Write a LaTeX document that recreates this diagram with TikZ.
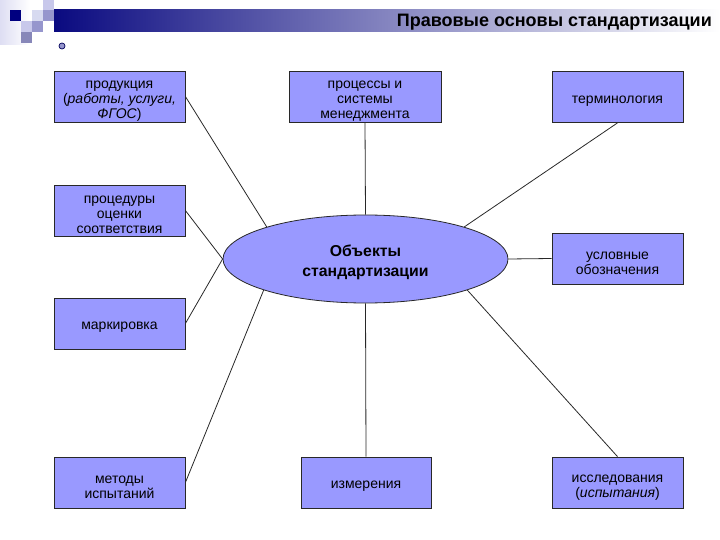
\documentclass[tikz,border=0pt]{standalone}
\usepackage{fontspec}
\setmainfont{Liberation Sans}
\usetikzlibrary{shapes.geometric}
\definecolor{boxfill}{RGB}{153,153,255}
\definecolor{navybar}{RGB}{10,10,128}
\definecolor{sqdark}{RGB}{0,0,128}
\definecolor{sqmid}{RGB}{150,150,205}
\definecolor{sqlight}{RGB}{200,200,235}
\definecolor{sqpale}{RGB}{215,218,240}
\definecolor{edge}{RGB}{40,40,40}
\newcommand\topstrut[1]{\rule{0pt}{#1}}
\tikzset{
  objbox/.style={draw=edge, line width=0.8pt, fill=boxfill, minimum width=131pt, minimum height=51pt,
    inner xsep=1pt, inner ysep=0pt, align=center, font=\fontsize{14}{15}\selectfont},
  objell/.style={ellipse, draw=edge, line width=0.8pt, fill=boxfill, minimum width=285pt, minimum height=88pt,
    inner sep=0pt, align=center, font=\fontsize{15.8}{20}\selectfont\bfseries},
  link/.style={draw=edge, line width=0.8pt}
}
\begin{document}
\begin{tikzpicture}[x=1pt,y=-1pt]
\useasboundingbox (0,0) rectangle (720,540);
% faint left background
\shade[left color=sqlight!60, right color=white] (0,0) rectangle (30,45);
% header bar
\shade[left color=navybar, right color=white] (54,10) rectangle (720,32);
% decorative squares
\fill[sqdark] (10,10) rectangle (21,21);
\fill[sqlight] (43,0) rectangle (54,10);
\fill[sqpale] (32,10) rectangle (43,21);
\fill[sqmid] (43,10) rectangle (54,21);
\fill[sqlight] (21,21) rectangle (32,32);
\fill[sqmid] (32,21) rectangle (43,32);
\fill[sqmid!90!black] (21,32) rectangle (32,43);
% bullet
\filldraw[fill=sqmid, draw=sqdark!70!black, line width=0.7pt] (62,46) circle (3pt);
% title
\node[anchor=east, inner sep=0pt, font=\fontsize{18}{20}\selectfont\bfseries] (title) at (712,22.5) {Правовые основы стандартизации};
% nodes
\node[objbox] (prod) at (119.5,96.5) {\topstrut{16.5pt}продукция\\(\textit{работы, услуги,}\\\textit{ФГОС})};
\node[objbox] (proc) at (119.5,210.5) {\topstrut{16.5pt}процедуры\\оценки\\соответствия};
\node[objbox] (mark) at (119.5,323.5) {\topstrut{15pt}маркировка};
\node[objbox] (meth) at (119.5,482.5) {\topstrut{17pt}методы\\испытаний};
\node[objbox, minimum width=152pt] (sys) at (365,96.5) {\topstrut{16.5pt}процессы и\\системы\\менеджмента};
\node[objbox] (term) at (617.5,97) {\topstrut{15pt}терминология};
\node[objbox] (usl) at (617.5,258.5) {\topstrut{17pt}условные\\обозначения};
\node[objbox, minimum width=130pt] (izm) at (366,482.5) {\topstrut{15pt}измерения};
\node[objbox] (issl) at (617.5,482.5) {\topstrut{17pt}исследования\\(\textit{испытания})};
\node[objell] (ell) at (365.5,259) {\topstrut{17.5pt}Объекты\\стандартизации};
% connectors
\draw[link] (prod.east) -- (ell.162);
\draw[link] (proc.east) -- (ell.west);
\draw[link] (mark.east) -- (ell.west);
\draw[link] (meth.east) -- (ell.197);
\draw[link] (sys.south) -- (ell.north);
\draw[link] (izm.north) -- (ell.south);
\draw[link] (term.south) -- (ell.18);
\draw[link] (issl.north) -- (ell.343);
\draw[link] (ell.east) -- (usl.west);
\end{tikzpicture}
\end{document}
